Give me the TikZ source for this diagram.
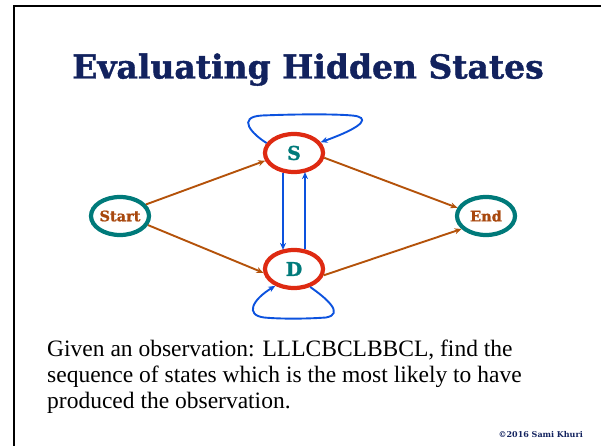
\documentclass[tikz,border=0pt]{standalone}
\usepackage{fontspec}
\setmainfont{Liberation Serif}
\newfontfamily\slab{DejaVu Serif}
\newfontfamily\slabheavy{DejaVu Serif}[BoldFeatures={FakeBold=1.2}]
\usetikzlibrary{shapes.geometric,arrows.meta,calc}
\definecolor{navy}{RGB}{18,34,94}
\definecolor{tealc}{RGB}{0,122,122}
\definecolor{redc}{RGB}{222,42,18}
\definecolor{brownc}{RGB}{168,72,14}
\definecolor{arrowbrown}{RGB}{180,82,10}
\definecolor{bluec}{RGB}{12,82,222}
\tikzset{
  endstate/.style={ellipse, draw=tealc, line width=4.2pt, minimum width=58pt, minimum height=38pt, inner sep=0pt,
    text=brownc, font=\slabheavy\bfseries\fontsize{14.5}{14.5}\selectfont},
  hidstate/.style={ellipse, draw=redc, line width=4.2pt, minimum width=58pt, minimum height=38pt, inner sep=0pt,
    text=tealc, font=\slabheavy\bfseries\fontsize{19}{19}\selectfont},
  trans/.style={draw=arrowbrown, line width=1.9pt, -{Stealth[length=7pt,width=6pt]}},
  selfloop/.style={draw=bluec, line width=1.9pt, -{Stealth[length=7pt,width=6pt]}},
}
\begin{document}
\begin{tikzpicture}[x=1pt,y=-1pt]
  \useasboundingbox (0,0) rectangle (601,446);
  % slide frame (top and left edges)
  \draw[black, line width=2.6pt] (13.8,446) -- (13.8,6.2) -- (601,6.2);

  % title
  \node[text=navy, font=\slabheavy\bfseries\fontsize{33}{33}\selectfont, anchor=base] (title) at (308,78.5) {Evaluating Hidden States};

  % states
  \node[endstate] (start) at (120,216) {Start};
  \node[endstate] (end) at (486,216) {End};
  \node[hidstate] (s) at (294,153) {S};
  \node[hidstate] (d) at (294,269) {D};

  % transitions from Start and to End
  \draw[trans] (start.24) -- (s.195);
  \draw[trans] (start.-18) -- (d.187);
  \draw[trans] (s.-9) -- (end.164);
  \draw[trans] (d.-12) -- (end.208);

  % transitions between S and D
  \draw[selfloop] ($(s.south)+(-11,-1)$) -- ($(d.north)+(-11,2)$);
  \draw[selfloop] ($(d.north)+(11,1)$) -- ($(s.south)+(11,-2)$);

  % self loops
  \draw[selfloop] (s.160) .. controls (252,134) and (236,117) .. (262,115.5)
                          .. controls (300,114) and (335,114) .. (352,115.5)
                          .. controls (370,117) and (366,126) .. (s.22);
  \draw[selfloop] (d.-48) .. controls (326,298) and (345,314) .. (326,317.5)
                          .. controls (305,319) and (280,319) .. (264,317.5)
                          .. controls (245,315) and (252,300) .. (d.-138);

  % description
  \node[anchor=north west, font=\fontsize{23.5}{25.8}\selectfont, align=left, inner sep=0pt] (desc) at (47,340)
    {Given an observation: LLLCBCLBBCL, find the\\sequence of states which is the most likely to have\\produced the observation.};

  % copyright line
  \node[anchor=base east, text=navy, font=\slab\bfseries\fontsize{8}{9}\selectfont, inner sep=0pt] (copy) at (583,437)
    {\textcopyright2016 Sami Khuri};
\end{tikzpicture}
\end{document}
